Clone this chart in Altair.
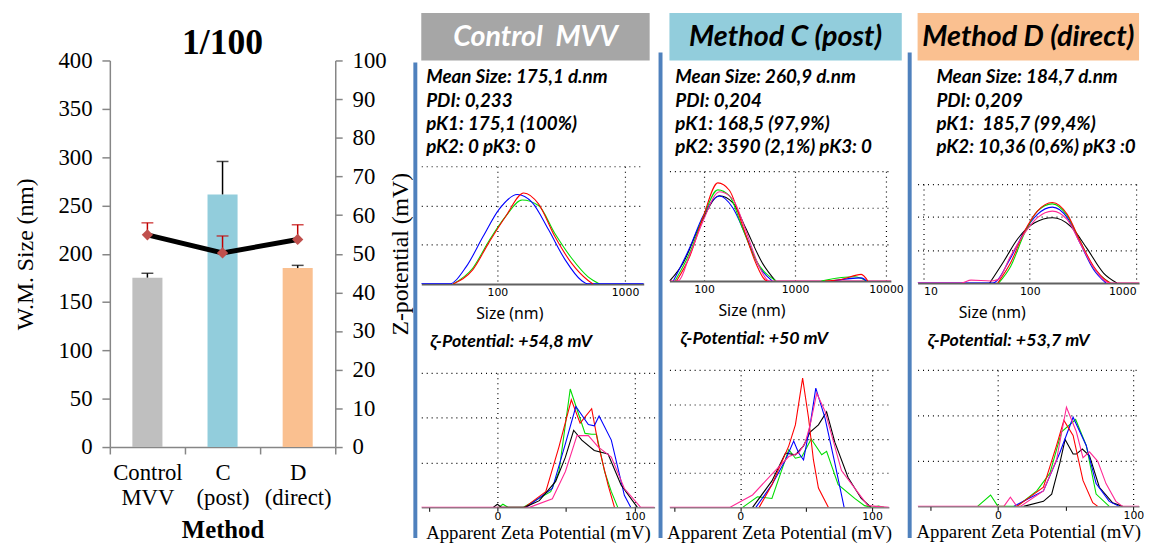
import altair as alt
import pandas as pd

# ---------------- left panel: W.M. size bars + zeta line ----------------
methods = ["Control MVV", "C (post)", "D (direct)"]
wm_size = [175.3, 261.4, 185.2]
wm_size_err = [4.5, 34.1, 2.8]
zeta_pot = [54.9, 50.2, 53.7]
zeta_err = [3.1, 4.4, 3.8]
bar_colors = ["#bfbfbf", "#92cddc", "#fac090"]
size_ticks = [0, 50, 100, 150, 200, 250, 300, 350, 400]
zeta_ticks = [0, 10, 20, 30, 40, 50, 60, 70, 80, 90, 100]

# ---------------- right panels: text ----------------
headers = ["Control\u00a0 MVV", "Method C (post)", "Method D (direct)"]
header_fill = ["#a6a6a6", "#92cddc", "#fac090"]
header_text = ["#ffffff", "#000000", "#000000"]
stats_control = ["Mean Size: 175,1 d.nm", "PDI: 0,233", "pK1: 175,1 (100%)", "pK2: 0 pK3: 0"]
stats_c = ["Mean Size: 260,9 d.nm", "PDI: 0,204", "pK1: 168,5 (97,9%)", "pK2: 3590 (2,1%) pK3: 0"]
stats_d = ["Mean Size: 184,7 d.nm", "PDI: 0,209", "pK1:\u00a0 185,7 (99,4%)", "pK2: 10,36 (0,6%) pK3 :0"]
zeta_text = ["ζ-Potential: +54,8 mV", "ζ-Potential: +50 mV", "ζ-Potential: +53,7 mV"]

# ---------------- size distributions (d.nm, intensity %) ----------------
size_control = {
    "green": ([45, 64, 86, 116, 156, 210, 283, 381, 514, 632],
              [0, 2.0, 5.5, 8.6, 10.7, 10.0, 6.4, 3.3, 0.9, 0]),
    "blue": ([25.3, 42, 57, 77, 103, 143, 187, 252, 339, 456, 514, 1403],
             [0, 0, 2.2, 6.0, 9.5, 11.4, 10.4, 6.9, 3.1, 0.44, 0, 0]),
    "red": ([45, 64, 86, 116, 161, 210, 283, 381, 514, 562],
            [0, 1.8, 5.3, 8.6, 11.6, 10.2, 6.0, 2.65, 0.44, 0]),
}
size_c = {
    "black": ([42, 59, 90, 148, 207, 288, 438, 611], [0, 2.45, 7.6, 11.65, 10.7, 7.2, 2.45, 0]),
    "blue": ([46, 70, 97, 148, 207, 288, 403, 562], [0, 4.6, 8.8, 11.6, 10.0, 6.2, 2.0, 0]),
    "green": ([48, 70, 97, 142, 190, 265, 371, 621], [0, 3.9, 8.6, 12.45, 11.65, 7.2, 2.9, 0]),
    "red": ([50, 70, 97, 142, 190, 265, 371, 476, 520], [0, 3.4, 8.6, 13.4, 12.4, 7.6, 2.45, 0.1, 0]),
    "pink": ([41.7, 52, 70, 97, 148, 207, 288, 403, 520, 11330],
             [0, 0, 3.6, 8.1, 12.2, 11.2, 6.9, 2.0, 0, 0]),
    "green2": ([1950, 3240, 4520, 6100], [0, 0.47, 0.57, 0]),
    "blue2": ([2500, 5350, 6100], [0, 0.42, 0]),
    "red2": ([2140, 3240, 5350, 6320], [0, 0.2, 0.9, 0]),
}
size_d = {
    "black": ([42, 57, 77, 110, 164, 242, 346, 494, 659], [0, 3.3, 6.7, 9.1, 9.9, 8.6, 5.2, 1.5, 0]),
    "blue": ([8.8, 45, 66, 89, 118, 163, 225, 300, 399, 520], [0, 0, 3.8, 7.8, 10.4, 11.5, 9.9, 5.9, 2.0, 0]),
    "green": ([51, 66, 89, 118, 163, 225, 300, 399, 571], [0, 2.5, 7.5, 10.9, 12.0, 10.2, 6.2, 2.3, 0]),
    "red": ([50, 66, 89, 118, 163, 225, 300, 399, 532, 571], [0, 3.05, 7.8, 10.9, 12.2, 10.4, 6.2, 2.5, 0.3, 0]),
    "pink": ([8.8, 22.7, 28, 43, 50, 66, 89, 118, 163, 225, 300, 399, 571, 1066],
             [0, 0, 0.42, 0.3, 0.5, 4.1, 7.5, 9.9, 10.9, 9.6, 5.9, 2.3, 0, 0]),
}

# ---------------- zeta distributions (mV, counts in grid units) ----------------
zeta_control = {
    "green": ([1, 4, 8, 18.6, 38.8, 44.8, 53, 63.8, 68.6, 72.1, 78, 82.9, 87.6],
              [0, 0.07, 0, 0, 0.35, 0.8, 2.64, 1.65, 1.63, 1.63, 0.8, 0.35, 0]),
    "red": ([19.8, 35.2, 44.8, 53.8, 60.2, 68.6, 73.3, 80.5, 85.2],
            [0, 0.35, 1.35, 2.4, 1.88, 2.2, 1.42, 0.5, 0]),
    "blue": ([21, 40, 49.5, 57.1, 66.2, 70.5, 74, 82.9, 92.4, 97],
             [0, 0.42, 1.42, 2.25, 1.85, 1.82, 2.04, 1.5, 0.27, 0]),
    "black": ([-3, 0, 3, 19.8, 30.5, 42.4, 49.5, 55.5, 61.4, 70.5, 80.5, 90, 101.9],
              [0, 0.07, 0, 0, 0.15, 0.58, 1.12, 1.72, 1.5, 1.27, 1.19, 0.5, 0]),
    "pink": ([-55.4, 23.3, 40, 49.5, 57.9, 66.2, 73.3, 82.9, 92.4, 104.3, 114.4],
             [0, 0, 0.19, 0.8, 1.6, 1.6, 1.35, 1.12, 0.42, 0, 0]),
}
zeta_c = {
    "green": ([1.8, 13, 24, 36.8, 41.8, 46.8, 53.8, 61.8, 65.5, 74.3, 86.8, 94.3, 100, 105, 109],
              [0, 0.31, 0.26, 1.68, 1.43, 1.48, 1.99, 1.53, 1.63, 0.66, 0.26, 0.05, 0, 0.04, 0]),
    "black": ([9.3, 24, 34.3, 41.8, 48, 53, 59.3, 65.5, 71.8, 81.8, 91.8, 99.3],
              [0, 0.77, 1.58, 1.53, 1.79, 2.19, 2.4, 2.78, 1.89, 0.87, 0.26, 0]),
    "blue": ([11.8, 24, 34.3, 40.5, 44.3, 48, 53, 57.3, 64.3, 71.8, 78.8],
             [0, 0.66, 1.38, 1.93, 1.58, 1.38, 2.4, 3.47, 2.6, 1.28, 0]),
    "red": ([14.3, 24, 36.8, 41.8, 47.3, 51.8, 55.5, 59.3, 66.8],
            [0, 0.66, 1.79, 2.4, 3.76, 2.6, 1.38, 0.56, 0]),
    "pink": ([-53.8, -8, -0.8, 9.3, 24, 36.8, 44.3, 49.3, 53, 58, 64.3, 76.8, 86.8, 96.8, 112.8],
             [0, 0, 0.15, 0.36, 0.97, 1.48, 1.58, 1.89, 2.4, 3.32, 2.8, 1.07, 0.56, 0.05, 0]),
}
zeta_d = {
    "green": ([-15, -5.4, 0, 14, 28.7, 38.4, 47, 57.4, 65.2, 72.5, 82.2],
              [0, 0.25, 0, 0, 0.34, 0.73, 1.64, 1.91, 1.34, 0.27, 0]),
    "black": ([19, 33.6, 39.7, 45.7, 49.6, 55.5, 57.9, 62.3, 67.6, 74.9, 84.7, 92],
              [0, 0.11, 0.27, 0.95, 1.47, 1.15, 1.15, 1.26, 1.11, 0.42, 0.08, 0]),
    "blue": ([11.7, 33.6, 45.7, 55.5, 65.2, 72.5, 82.2, 89.5],
             [0, 0.34, 1.18, 1.96, 1.34, 0.5, 0.11, 0]),
    "red": ([14, 33.6, 43.3, 48.7, 55.5, 62.8, 70, 73.7],
            [0, 0.42, 1.34, 1.89, 1.56, 0.57, 0.08, 0]),
    "pink": ([-59.3, 4.4, 9.2, 14, 16.5, 33.6, 43.3, 50.6, 57.9, 62.8, 67.6, 73.7, 79.8, 87.1, 92, 104.2],
             [0, 0, 0.2, 0, 0, 0.34, 1.03, 2.18, 1.64, 1.07, 1.2, 0.99, 0.5, 0.11, 0, 0]),
}

CURVE_COLORS = {"red": "#ff0000", "green": "#00dd00", "blue": "#0000ff",
                "black": "#000000", "pink": "#ff2a95"}
SERIF = "Liberation Serif"
CAL = "Lato"
TICKF = "DejaVu Sans"


def spacer(w, h, fill=None):
    ch = alt.Chart(pd.DataFrame({"v": pd.Series([], dtype="float64")})).mark_point(opacity=0)
    props = dict(width=w, height=h)
    if fill:
        props["view"] = alt.ViewBackground(fill=fill, strokeWidth=0)
    return ch.properties(**props)


def header_chart(text, fill, color, w):
    return alt.Chart(pd.DataFrame({"t": [text]})).mark_text(
        font=CAL, fontSize=29, fontStyle="italic", fontWeight="bold", color=color
    ).encode(text="t:N").properties(width=w, height=48,
                                    view=alt.ViewBackground(fill=fill, strokeWidth=0))


def curve_layers(curves, xname, yname, xscale, yscale, xaxis, yaxis, interp):
    layers = []
    for key, (xs, ys) in curves.items():
        color = CURVE_COLORS[key.rstrip("0123456789")]
        df = pd.DataFrame({xname: xs, yname: ys})
        layers.append(alt.Chart(df).mark_line(color=color, strokeWidth=1.1, interpolate=interp,
                                              clip=True).encode(
            x=alt.X(f"{xname}:Q", scale=xscale, axis=xaxis),
            y=alt.Y(f"{yname}:Q", scale=yscale, axis=yaxis)))
    return layers


def size_panel(curves, dom, decades, w, h, lines, dx, offset, title_x, flush):
    xscale = alt.Scale(type="log", domain=dom, nice=False)
    yscale = alt.Scale(domain=[0, 15], nice=False)
    xaxis = alt.Axis(values=decades, grid=True, gridDash=[1, 4], gridColor="#000", gridWidth=1.2,
                     ticks=False, domainColor="#606060", domainWidth=2,
                     labelExpr="format(datum.value, 'd')", labelFont=TICKF, labelFontSize=11,
                     labelColor="#000", labelPadding=3, labelFlush=flush,
                     title="Size (nm)", titleFont="Noto Sans", titleFontSize=16,
                     titleFontWeight="normal", titleColor="#000", titlePadding=8, titleX=title_x)
    yaxis = alt.Axis(values=[5, 10, 15], grid=True, gridDash=[1, 4], gridColor="#000",
                     gridWidth=1.2, labels=False, ticks=False, domain=False, title="")
    layers = curve_layers(curves, "d_nm", "pct", xscale, yscale, xaxis, yaxis, "monotone")
    return alt.layer(*layers).properties(
        width=w, height=h,
        title=alt.TitleParams(text=lines, anchor="start", font=CAL, fontSize=19, fontStyle="italic",
                              fontWeight="bold", color="#000", lineHeight=23.7, offset=offset, dx=dx))


def zeta_panel(curves, dom, ymax, w, h, text, dx, offset):
    xscale = alt.Scale(domain=dom, nice=False, zero=False)
    yscale = alt.Scale(domain=[0, ymax], nice=False)
    xaxis = alt.Axis(values=[-50, 0, 50, 100], grid=True, gridDash=[1, 4], gridColor="#000",
                     gridWidth=1.2,
                     gridOpacity={"condition": {"test": "datum.value == 0 || datum.value == 100",
                                                "value": 1}, "value": 0},
                     tickSize=4, tickColor="#000", domainColor="#444",
                     labelExpr="datum.value == 0 || datum.value == 100 ? datum.label : ''",
                     labelFont=TICKF, labelFontSize=11, labelColor="#000", labelPadding=-1,
                     labelFlush=False,
                     title="Apparent Zeta Potential (mV)", titleFont=SERIF, titleFontSize=19,
                     titleFontWeight="normal", titleColor="#000", titlePadding=2)
    yaxis = alt.Axis(values=list(range(1, ymax + 1)), grid=True, gridDash=[1, 4], gridColor="#000",
                     gridWidth=1.2, labels=False, ticks=False, domain=False, title="")
    layers = curve_layers(curves, "mv", "count", xscale, yscale, xaxis, yaxis, "linear")
    return alt.layer(*layers).properties(
        width=w, height=h,
        title=alt.TitleParams(text=text, anchor="start", font=CAL, fontSize=18, fontStyle="italic",
                              fontWeight="bold", color="#000", offset=offset, dx=dx))


# ---------------- left chart ----------------
left_df = pd.DataFrame({
    "method": methods,
    "size": wm_size,
    "size_hi": [s + e for s, e in zip(wm_size, wm_size_err)],
    "zeta": zeta_pot,
    "zeta_hi": [z + e for z, e in zip(zeta_pot, zeta_err)],
})
x_axis = alt.Axis(title="Method", labelExpr="split(datum.label, ' ')", labelAngle=0,
                  labelFont=SERIF, labelFontSize=23, labelColor="#000", labelLineHeight=25,
                  labelPadding=8, tickBand="extent", tickSize=7, tickColor="#868686", tickWidth=1.5,
                  domainColor="#868686", domainWidth=1.5, titleFont=SERIF, titleFontSize=25,
                  titleFontWeight="bold", titleColor="#000", titlePadding=8)
xenc = alt.X("method:N", sort=methods, scale=alt.Scale(paddingInner=0, paddingOuter=0), axis=x_axis)
ys_scale = alt.Scale(domain=[0, 400], nice=False)
left_axis = alt.Axis(values=size_ticks, title="W.M. Size (nm)", labelFont=SERIF, labelFontSize=23,
                     labelColor="#000", labelPadding=10, tickSize=8, tickColor="#868686",
                     tickWidth=1.5, domainColor="#868686", domainWidth=1.5, grid=False,
                     titleFont=SERIF, titleFontSize=24, titleFontWeight="normal", titleColor="#000",
                     titlePadding=21)
yz_scale = alt.Scale(domain=[0, 100], nice=False)
right_axis = alt.Axis(orient="right", values=zeta_ticks, title="Z-potential (mV)", titleAngle=270,
                      labelFont=SERIF, labelFontSize=23, labelColor="#000", labelPadding=10,
                      tickSize=7, tickColor="#868686", tickWidth=1.5, domainColor="#868686",
                      domainWidth=1.5, grid=False, titleFont=SERIF, titleFontSize=24,
                      titleFontWeight="normal", titleColor="#000", titlePadding=27)

bars = alt.Chart(left_df).mark_bar(width=alt.RelativeBandSize(0.4)).encode(
    x=xenc, y=alt.Y("size:Q", scale=ys_scale, axis=left_axis),
    color=alt.Color("method:N", scale=alt.Scale(domain=methods, range=bar_colors), legend=None))
bar_err = alt.Chart(left_df).mark_rule(color="#000", strokeWidth=1.5).encode(
    x=xenc, y=alt.Y("size:Q", scale=ys_scale, axis=left_axis), y2="size_hi:Q")
bar_cap = alt.Chart(left_df).mark_tick(color="#000", thickness=1.5, size=12).encode(
    x=xenc, y=alt.Y("size_hi:Q", scale=ys_scale, axis=left_axis))

z_line = alt.Chart(left_df).mark_line(color="#000", strokeWidth=5).encode(
    x=xenc, y=alt.Y("zeta:Q", scale=yz_scale, axis=right_axis))
z_err = alt.Chart(left_df).mark_rule(color="#c00000", strokeWidth=1.5).encode(
    x=xenc, y=alt.Y("zeta:Q", scale=yz_scale, axis=right_axis), y2="zeta_hi:Q")
z_cap = alt.Chart(left_df).mark_tick(color="#c00000", thickness=1.5, size=12).encode(
    x=xenc, y=alt.Y("zeta_hi:Q", scale=yz_scale, axis=right_axis))
z_pts = alt.Chart(left_df).mark_point(shape="diamond", filled=True, size=130, color="#c0504d",
                                      opacity=1).encode(
    x=xenc, y=alt.Y("zeta:Q", scale=yz_scale, axis=right_axis))

left_chart = alt.layer(
    alt.layer(bars, bar_err, bar_cap),
    alt.layer(z_line, z_err, z_cap, z_pts),
).resolve_scale(y="independent").properties(
    width=228, height=391,
    title=alt.TitleParams("1/100", font=SERIF, fontSize=36, fontWeight="bold", color="#000",
                          anchor="middle", offset=-12))
left_group = alt.vconcat(spacer(1, 12), left_chart, spacing=0)

# ---------------- right columns ----------------
def column(header_idx, size_ch, zeta_ch):
    return alt.vconcat(
        header_chart(headers[header_idx], header_fill[header_idx], header_text[header_idx],
                     [231, 235, 224][header_idx]),
        alt.vconcat(size_ch, zeta_ch, spacing=12),
        spacing=7)


col1 = column(0,
              size_panel(size_control, [25.3, 1403], [100, 1000], 225, 119, stats_control, 5, 9, 89, False),
              zeta_panel(zeta_control, [-55.4, 114.4], 3, 236, 136, zeta_text[0], 9, 22))
col2 = column(1,
              size_panel(size_c, [41.7, 11330], [100, 1000, 10000], 224, 111, stats_c, 6, 14, 83, False),
              zeta_panel(zeta_c, [-53.8, 112.8], 4, 222, 139, zeta_text[1], 14, 22))
col3 = column(2,
              size_panel(size_d, [8.8, 1066], [10, 100, 1000], 224, 100, stats_d, 19, 27, 75, 6),
              zeta_panel(zeta_d, [-59.3, 104.2], 3, 224, 138, zeta_text[2], 12, 20))

BLUE = "#4f81bd"
blue1 = alt.vconcat(spacer(4, 50), spacer(4, 481, BLUE), spacing=0)
blue2 = alt.vconcat(spacer(4, 40), spacer(4, 491, BLUE), spacing=0)
blue3 = alt.vconcat(spacer(4, 40), spacer(4, 491, BLUE), spacing=0)

right_group = alt.hconcat(blue1, col1, blue2, col2, blue3, col3, spacing=4)

chart = alt.hconcat(left_group, right_group, spacing=-7).properties(
    padding={"left": 5, "top": 2, "right": 0, "bottom": 0}
).configure_view(strokeWidth=0)

chart.save("out.html", embed_options={"renderer": "svg", "actions": False})
